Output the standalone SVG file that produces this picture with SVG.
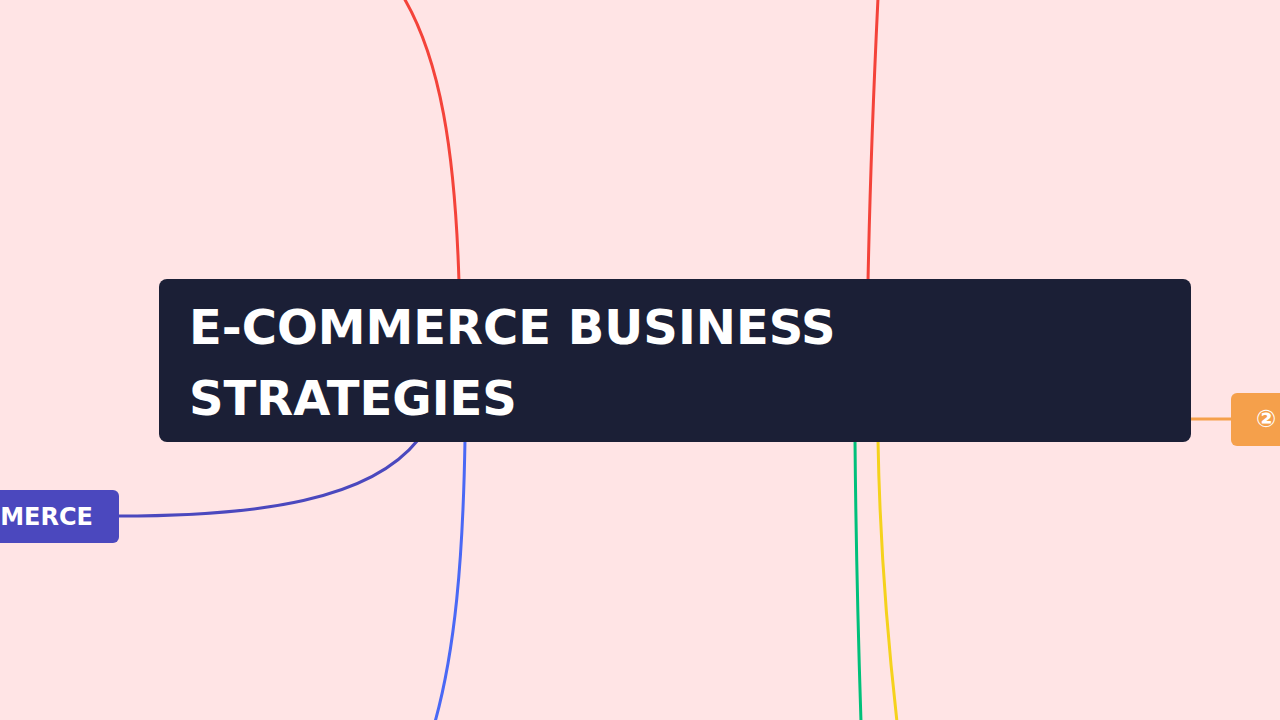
<svg xmlns="http://www.w3.org/2000/svg" width="1280" height="720" viewBox="0 0 1280 720">
<style>
.c{fill:none;stroke-width:3;stroke-linecap:round}
.t{font-family:"DejaVu Sans","Noto Sans",sans-serif;font-weight:bold;fill:#ffffff}
</style>
<rect x="0" y="0" width="1280" height="720" fill="#FFE4E5"/>
<g id="connectors">
<path class="c" stroke="#F4433A" d="M459,282 C455,150 440,60 404,-2"/>
<path class="c" stroke="#F4433A" d="M868,282 C870,180 875,60 878,-2"/>
<path class="c" stroke="#4A68F5" d="M465,440 C463,560 455,650 435,722"/>
<path class="c" stroke="#00C07A" d="M855,440 C856,560 859,660 861,722"/>
<path class="c" stroke="#F5D21C" d="M878,440 C880,560 890,660 897,722"/>
<path class="c" stroke="#4B48BE" d="M418,440 C370,500 260,516 119,516"/>
<path class="c" stroke="#F5A04B" d="M1191,419 L1231,419"/>
</g>
<g id="root">
<rect x="159" y="279" width="1032" height="163" rx="8" fill="#1B1F36"/>
<text class="t" x="189" y="344" font-size="48">E-COMMERCE BUSINESS</text>
<text class="t" x="189" y="415" font-size="48">STRATEGIES</text>
</g>
<g id="node-left">
<rect x="-20" y="490" width="139" height="53" rx="6" fill="#4B48BE"/>
<text class="t" x="93" y="525" font-size="24" text-anchor="end">MERCE</text>
</g>
<g id="node-right">
<rect x="1231" y="393" width="80" height="53" rx="6" fill="#F5A04B"/>
<text class="t" x="1256" y="427" font-size="24">②</text>
</g>
</svg>
